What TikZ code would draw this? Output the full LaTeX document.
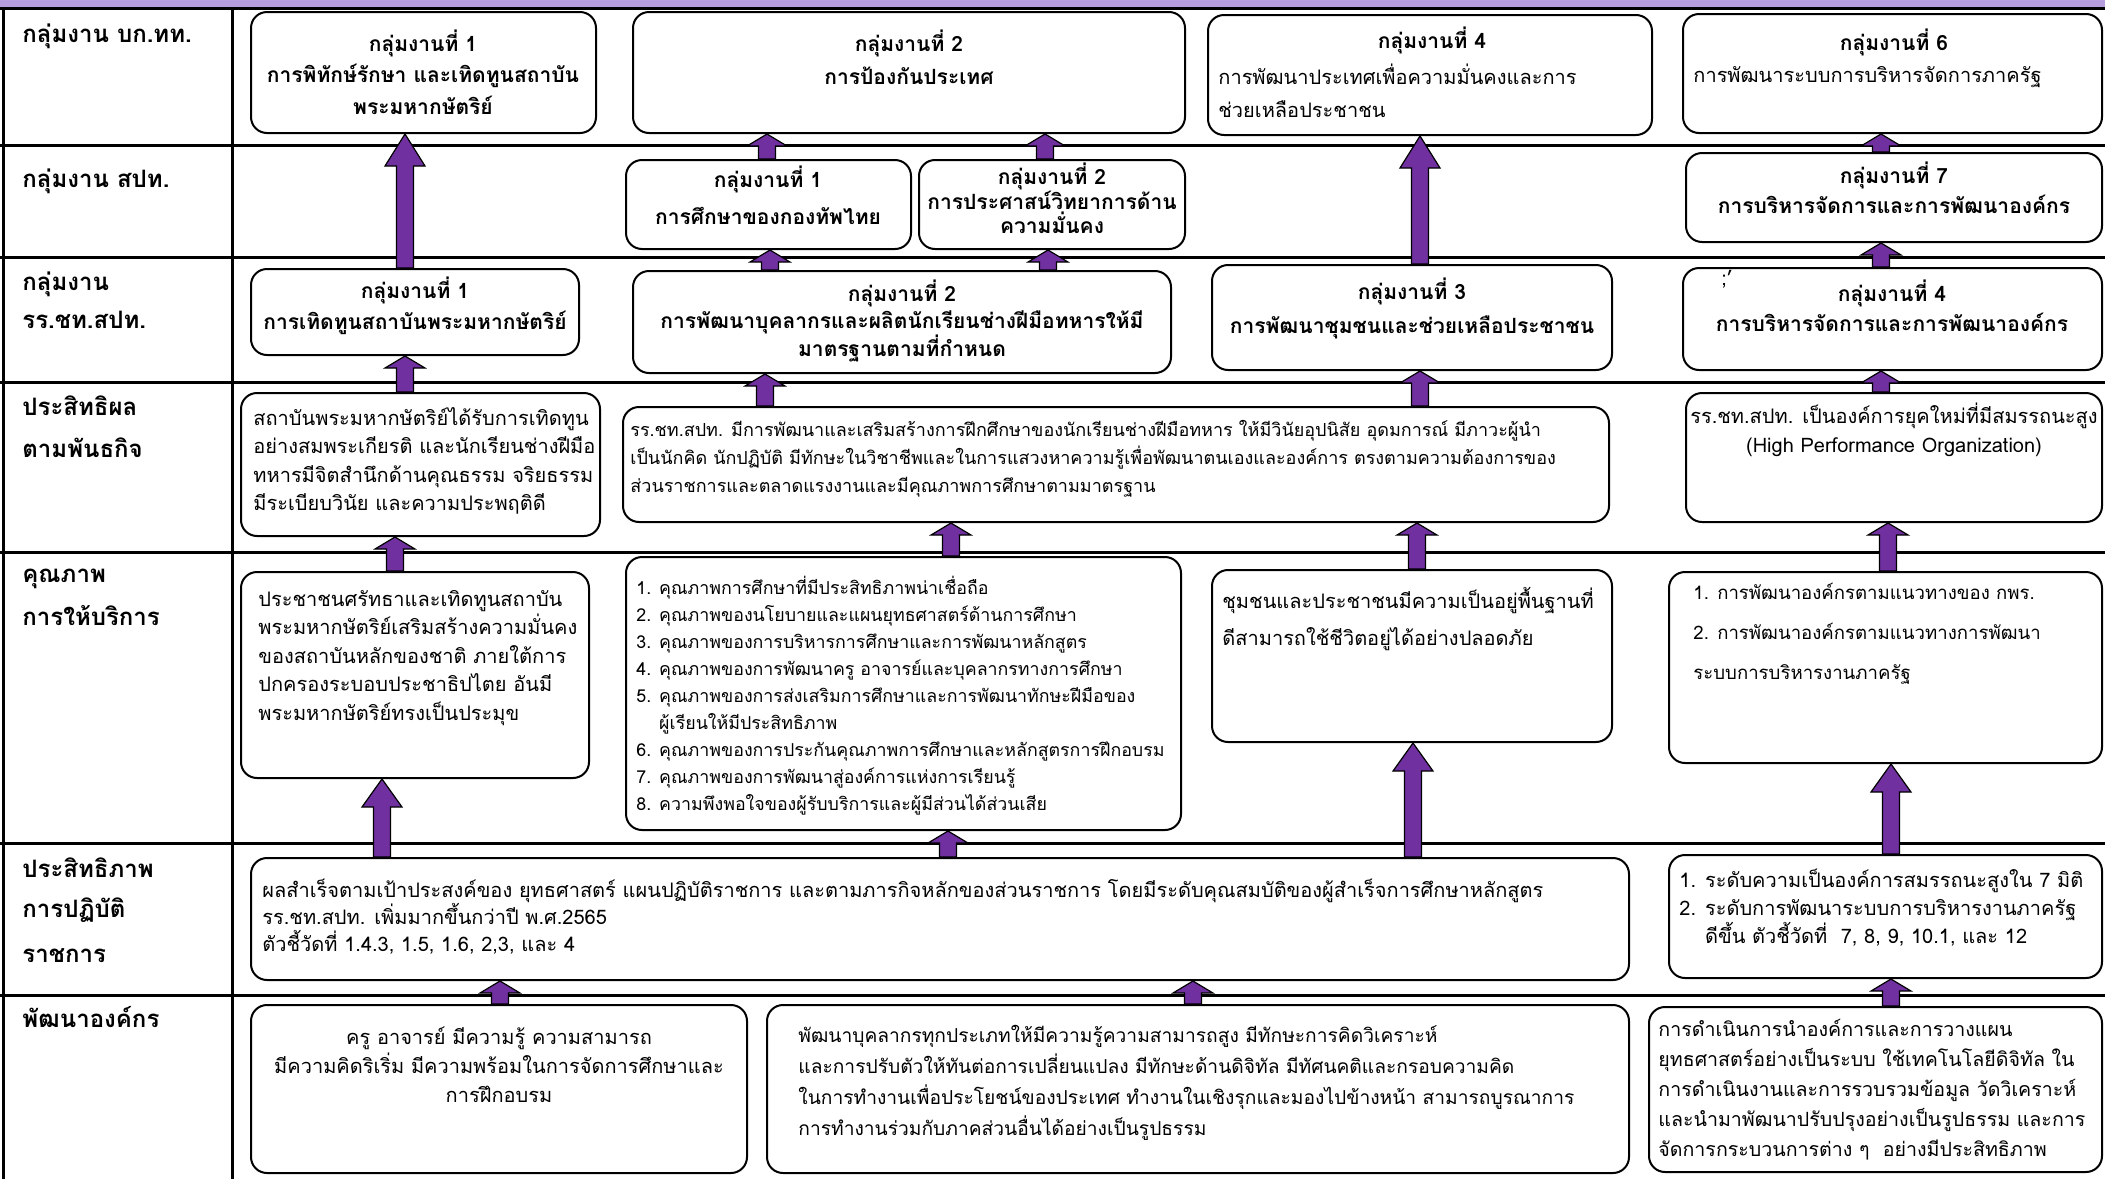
\documentclass[tikz,border=0pt]{standalone}
\usepackage{fontspec}
\setmainfont{Loma}[Script=Thai]
\usetikzlibrary{calc,fit}

\definecolor{bandlilac}{HTML}{B69DDE}
\definecolor{armpurple}{HTML}{7030A0}

\tikzset{
  box/.style={shape=rectangle, rounded corners=8pt, draw=black, line width=1pt, fill=white, inner sep=0pt},
  tableline/.style={draw=black, line width=1.5pt},
  lbl/.style={anchor=base west, inner sep=0pt, font=\fontsize{12}{14}\selectfont\bfseries},
  head/.style={anchor=north, inner sep=0pt, align=center, font=\fontsize{10.5}{#1}\selectfont\bfseries},
  head/.default=16,
  body/.style={anchor=north west, inner sep=0pt, align=left, font=\fontsize{10}{#1}\selectfont},
  body/.default=14.5,
  listtxt/.style={anchor=north west, inner sep=0pt, align=left, font=\fontsize{8.9}{13.5}\selectfont},
  blockarr/.style={fill=armpurple, draw=black, line width=0.6pt, line join=miter},
}

% x = x of the arrow, #2 from, #3 to, #4 head length
\newcommand{\upblock}[4]{%
  \draw[blockarr] let \p1=(#1,0), \p2=(#2.north), \p3=(#3.south) in
    (\x1-4.25pt,\y2) -- (\x1-4.25pt,\y3-#4) -- (\x1-10pt,\y3-#4) -- (\x1,\y3)
    -- (\x1+10pt,\y3-#4) -- (\x1+4.25pt,\y3-#4) -- (\x1+4.25pt,\y2) -- cycle;
}

\begin{document}
\begin{tikzpicture}[x=0.5pt, y=-0.5pt]
\useasboundingbox (0,0) rectangle (2105,1179);

% table
\fill[bandlilac] (0,0) rectangle (2105,8);
\draw[tableline] (0,8) -- (2105,8);
\foreach \yy in {145,257,382,552,843,995}
  \draw[tableline] (0,\yy) -- (2105,\yy);
\draw[tableline] (3,8) -- (3,1179);
\draw[tableline] (232,8) -- (232,1179);

% row labels
\node[lbl] at (22,42) (l1) {กลุ่มงาน บก.ทท.};
\node[lbl] at (22,187) (l2) {กลุ่มงาน สปท.};
\node[lbl] at (22,290) (l3a) {กลุ่มงาน};
\node[lbl] at (22,328) (l3b) {รร.ชท.สปท.};
\node[lbl] at (22,415) (l4a) {ประสิทธิผล};
\node[lbl] at (22,457) (l4b) {ตามพันธกิจ};
\node[lbl] at (22,582) (l5a) {คุณภาพ};
\node[lbl] at (22,625) (l5b) {การให้บริการ};
\node[lbl] at (22,877) (l6a) {ประสิทธิภาพ};
\node[lbl] at (22,917) (l6b) {การปฏิบัติ};
\node[lbl] at (22,962) (l6c) {ราชการ};
\node[lbl] at (22,1027) (l7) {พัฒนาองค์กร};

% boxes
\node[box, fit={(251,12) (596,133)}] (b11) {};
\node[box, fit={(633,12) (1185,133)}] (b12) {};
\node[box, fit={(1208,15) (1652,135)}] (b14) {};
\node[box, fit={(1683,14) (2102,133)}] (b16) {};

\node[box, fit={(626,160) (911,249)}] (b21) {};
\node[box, fit={(919,160) (1185,249)}] (b22) {};
\node[box, fit={(1686,153) (2102,242)}] (b27) {};

\node[box, fit={(251,269) (579,355)}] (b31) {};
\node[box, fit={(633,271) (1171,373)}] (b32) {};
\node[box, fit={(1212,265) (1612,370)}] (b33) {};
\node[box, fit={(1683,268) (2102,370)}] (b34) {};

\node[box, fit={(241,393) (600,536)}] (b41) {};
\node[box, fit={(623,407) (1609,522)}] (b42) {};
\node[box, fit={(1686,393) (2102,522)}] (b43) {};

\node[box, fit={(241,572) (589,778)}] (b51) {};
\node[box, fit={(626,557) (1181,830)}] (b52) {};
\node[box, fit={(1212,570) (1612,742)}] (b53) {};
\node[box, fit={(1669,572) (2102,763)}] (b54) {};

\node[box, fit={(251,858) (1629,980)}] (b61) {};
\node[box, fit={(1669,855) (2102,978)}] (b62) {};

\node[box, fit={(251,1005) (747,1173)}] (b71) {};
\node[box, fit={(767,1005) (1629,1173)}] (b72) {};
\node[box, fit={(1649,1007) (2102,1172)}] (b73) {};

% texts
\node[head] at (423,29) (t11) {กลุ่มงานที่ 1\\การพิทักษ์รักษา และเทิดทูนสถาบัน\\พระมหากษัตริย์};
\node[head=17] at (909,29) (t12) {กลุ่มงานที่ 2\\การป้องกันประเทศ};
\node[head] at (1432,27) (t14a) {กลุ่มงานที่ 4};
\node[body=16.5] at (1218,64) (t14b) {การพัฒนาประเทศเพื่อความมั่นคงและการ\\ช่วยเหลือประชาชน};
\node[head] at (1894,29) (t16a) {กลุ่มงานที่ 6};
\node[body] at (1693,66) (t16b) {การพัฒนาระบบการบริหารจัดการภาครัฐ};

\node[head=18.75] at (768,165) (t21) {กลุ่มงานที่ 1\\การศึกษาของกองทัพไทย};
\node[head=11.75] at (1052,162) (t22) {กลุ่มงานที่ 2\\การประศาสน์วิทยาการด้าน\\ความมั่นคง};
\node[head=15] at (1894,161) (t27) {กลุ่มงานที่ 7\\การบริหารจัดการและการพัฒนาองค์กร};

\node[head=15.5] at (415,276) (t31) {กลุ่มงานที่ 1\\การเทิดทูนสถาบันพระมหากษัตริย์};
\node[head=13.75] at (902,279) (t32) {กลุ่มงานที่ 2\\การพัฒนาบุคลากรและผลิตนักเรียนช่างฝีมือทหารให้มี\\มาตรฐานตามที่กำหนด};
\node[head=17] at (1412,277) (t33) {กลุ่มงานที่ 3\\การพัฒนาชุมชนและช่วยเหลือประชาชน};
\node[head=15] at (1892,279) (t34) {กลุ่มงานที่ 4\\การบริหารจัดการและการพัฒนาองค์กร};
\node[body] at (1721,270) (tick) {;'};

\node[body=14.25] at (253,407) (t41) {สถาบันพระมหากษัตริย์ได้รับการเทิดทูน\\อย่างสมพระเกียรติ และนักเรียนช่างฝีมือ\\ทหารมีจิตสำนึกด้านคุณธรรม จริยธรรม\\มีระเบียบวินัย และความประพฤติดี};
\node[body=14, font=\fontsize{9}{14}\selectfont] at (630,420) (t42) {รร.ชท.สปท. มีการพัฒนาและเสริมสร้างการฝึกศึกษาของนักเรียนช่างฝีมือทหาร ให้มีวินัยอุปนิสัย อุดมการณ์ มีภาวะผู้นำ\\เป็นนักคิด นักปฏิบัติ มีทักษะในวิชาชีพและในการแสวงหาความรู้เพื่อพัฒนาตนเองและองค์การ ตรงตามความต้องการของ\\ส่วนราชการและตลาดแรงงานและมีคุณภาพการศึกษาตามมาตรฐาน};
\node[body=14.5, anchor=north, align=center] at (1894,403) (t43) {รร.ชท.สปท. เป็นองค์การยุคใหม่ที่มีสมรรถนะสูง\\(High Performance Organization)};

\node[body=14.25] at (258,590) (t51) {ประชาชนศรัทธาและเทิดทูนสถาบัน\\พระมหากษัตริย์เสริมสร้างความมั่นคง\\ของสถาบันหลักของชาติ ภายใต้การ\\ปกครองระบอบประชาธิปไตย อันมี\\พระมหากษัตริย์ทรงเป็นประมุข};
\node[listtxt] at (636,576) (t52) {1. คุณภาพการศึกษาที่มีประสิทธิภาพน่าเชื่อถือ\\2. คุณภาพของนโยบายและแผนยุทธศาสตร์ด้านการศึกษา\\3. คุณภาพของการบริหารการศึกษาและการพัฒนาหลักสูตร\\4. คุณภาพของการพัฒนาครู อาจารย์และบุคลากรทางการศึกษา\\5. คุณภาพของการส่งเสริมการศึกษาและการพัฒนาทักษะฝีมือของ\\\phantom{5. }ผู้เรียนให้มีประสิทธิภาพ\\6. คุณภาพของการประกันคุณภาพการศึกษาและหลักสูตรการฝึกอบรม\\7. คุณภาพของการพัฒนาสู่องค์การแห่งการเรียนรู้\\8. ความพึงพอใจของผู้รับบริการและผู้มีส่วนได้ส่วนเสีย};
\node[body=18.5] at (1222,587) (t53) {ชุมชนและประชาชนมีความเป็นอยู่พื้นฐานที่\\ดีสามารถใช้ชีวิตอยู่ได้อย่างปลอดภัย};
\node[body=20, font=\fontsize{9.3}{20}\selectfont] at (1693,583) (t54) {1. การพัฒนาองค์กรตามแนวทางของ กพร.\\2. การพัฒนาองค์กรตามแนวทางการพัฒนา\\ระบบการบริหารงานภาครัฐ};

\node[body=13.5] at (262,879) (t61) {ผลสำเร็จตามเป้าประสงค์ของ ยุทธศาสตร์ แผนปฏิบัติราชการ และตามภารกิจหลักของส่วนราชการ โดยมีระดับคุณสมบัติของผู้สำเร็จการศึกษาหลักสูตร\\รร.ชท.สปท. เพิ่มมากขึ้นกว่าปี พ.ศ.2565\\ตัวชี้วัดที่ 1.4.3, 1.5, 1.6, 2,3, และ 4};
\node[body=14] at (1679,869) (t62) {1. ระดับความเป็นองค์การสมรรถนะสูงใน 7 มิติ\\2. ระดับการพัฒนาระบบการบริหารงานภาครัฐ\\\phantom{2. }ดีขึ้น ตัวชี้วัดที่~~7, 8, 9, 10.1, และ 12};

\node[body=14.5, anchor=north, align=center] at (499,1027) (t71) {ครู อาจารย์ มีความรู้ ความสามารถ\\มีความคิดริเริ่ม มีความพร้อมในการจัดการศึกษาและ\\การฝึกอบรม};
\node[body=15.5, font=\fontsize{9.6}{15.5}\selectfont] at (798,1025) (t72) {พัฒนาบุคลากรทุกประเภทให้มีความรู้ความสามารถสูง มีทักษะการคิดวิเคราะห์\\และการปรับตัวให้ทันต่อการเปลี่ยนแปลง มีทักษะด้านดิจิทัล มีทัศนคติและกรอบความคิด\\ในการทำงานเพื่อประโยชน์ของประเทศ ทำงานในเชิงรุกและมองไปข้างหน้า สามารถบูรณาการ\\การทำงานร่วมกับภาคส่วนอื่นได้อย่างเป็นรูปธรรม};
\node[body=15, font=\fontsize{9.8}{15}\selectfont] at (1658,1019) (t73) {การดำเนินการนำองค์การและการวางแผน\\ยุทธศาสตร์อย่างเป็นระบบ ใช้เทคโนโลยีดิจิทัล ใน\\การดำเนินงานและการรวบรวมข้อมูล วัดวิเคราะห์\\และนำมาพัฒนาปรับปรุงอย่างเป็นรูปธรรม และการ\\จัดการกระบวนการต่าง ๆ~~อย่างมีประสิทธิภาพ};

% arrows
\upblock{405}{b31}{b11}{16pt}
\upblock{1420}{b33}{b14}{16pt}
\upblock{767}{b21}{b12}{6pt}
\upblock{1045}{b22}{b12}{6pt}
\upblock{1881}{b27}{b16}{6pt}
\upblock{770}{b32}{b21}{6pt}
\upblock{1048}{b32}{b22}{6pt}
\upblock{1881}{b34}{b27}{6pt}
\upblock{405}{b41}{b31}{6pt}
\upblock{765}{b42}{b32}{6pt}
\upblock{1420}{b42}{b33}{6pt}
\upblock{1881}{b43}{b34}{6pt}
\upblock{395}{b51}{b41}{6pt}
\upblock{951}{b52}{b42}{6pt}
\upblock{1417}{b53}{b42}{6pt}
\upblock{1888}{b54}{b43}{6pt}
\upblock{382}{b61}{b51}{14pt}
\upblock{948}{b61}{b52}{6pt}
\upblock{1413}{b61}{b53}{14pt}
\upblock{1891}{b62}{b54}{14pt}
\upblock{500}{b71}{b61}{6pt}
\upblock{1193}{b72}{b61}{6pt}
\upblock{1891}{b73}{b62}{6pt}
\end{tikzpicture}
\end{document}
